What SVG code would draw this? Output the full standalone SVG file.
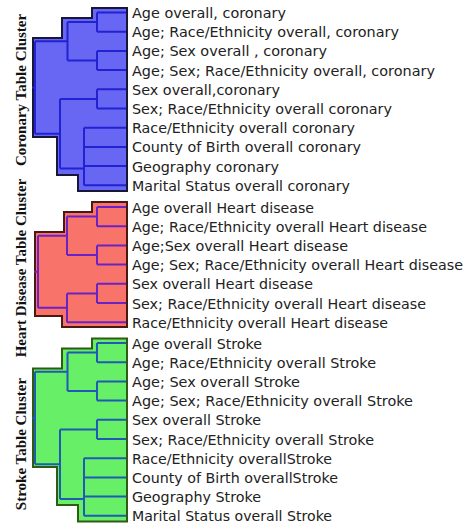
<svg xmlns="http://www.w3.org/2000/svg" width="466" height="529" viewBox="0 0 466 529">
  <style>
    .lbl { font-family: "DejaVu Sans", Verdana, sans-serif; font-size: 14px; fill: #222; }
    .title { font-family: "Liberation Serif", "Times New Roman", serif; font-weight: bold; font-size: 15px; fill: #111; text-anchor: middle; }
    .bg { stroke-width: 2; stroke-linejoin: miter; }
    .cor-bg { fill: #6767F3; stroke: #17173A; }
    .hd-bg { fill: #F8746B; stroke: #4A1A12; }
    .st-bg { fill: #67EF67; stroke: #2D5C12; }
    .edge { fill: none; stroke-width: 2; stroke-linecap: butt; }
    .cor-edge { stroke: #2222D2; }
    .hd-edge { stroke: #6A22C4; }
    .st-edge { stroke: #1F5BB4; }
  </style>
  <rect width="466" height="529" fill="#ffffff"/>

  <!-- cluster backgrounds (stepped hulls) -->
  <g id="coronary-cluster">
    <polygon class="bg cor-bg" points="127,8 92,8 92,18 62,18 62,38 33,38 33,137 57,137 57,175 78,175 78,191 127,191"/>
    <text class="title" transform="translate(25.5,90) rotate(-90)">Coronary Table Cluster</text>
  </g>
  <g id="heart-cluster">
    <polygon class="bg hd-bg" points="127,202 92,202 92,212 64,212 64,232 35,232 35,316 62,316 62,327 127,327"/>
    <text class="title" transform="translate(25.5,268) rotate(-90)">Heart Disease Table Cluster</text>
  </g>
  <g id="stroke-cluster">
    <polygon class="bg st-bg" points="127,338.5 92,338.5 92,348.5 62,348.5 62,368.5 33,368.5 33,467 57,467 57,505 78,505 78,521.5 127,521.5"/>
    <text class="title" transform="translate(25.5,444) rotate(-90)">Stroke Table Cluster</text>
  </g>

  <!-- dendrogram links -->
  <g id="connectors">
    <g class="edge cor-edge">
      <path d="M97,12.5H126M97,31.7H126M97,50.9H126M97,70.1H126M97,89.3H126M97,108.5H126M84,127.7H126M84,146.9H126M84,166.1H126M84,185.3H126"/>
      <path d="M97,12.5V31.7M97,22.1H67.5M97,50.9V70.1M97,60.5H67.5M67.5,22.1V60.5M67.5,41.3H35"/>
      <path d="M97,89.3V108.5M97,98.9H60M84,127.7V185.3M84,168.5H60M60,98.9V168.5M60,133.7H35"/>
      <path d="M35,41.3V133.7M35,87.5H32"/>
    </g>
    <g class="edge hd-edge">
      <path d="M97,207H126M97,226.2H126M97,245.4H126M97,264.6H126M97,283.8H126M97,303H126M67,322.2H126"/>
      <path d="M97,207V226.2M97,216.6H67M97,245.4V264.6M97,255H67M67,216.6V255M67,235.8H38"/>
      <path d="M97,283.8V303M97,293.4H67M67,293.4V322.2M67,307.8H38"/>
      <path d="M38,235.8V307.8M38,271.8H34"/>
    </g>
    <g class="edge st-edge">
      <path d="M97,343H126M97,362.2H126M97,381.4H126M97,400.6H126M97,419.8H126M97,439H126M84,458.2H126M84,477.4H126M84,496.6H126M84,515.8H126"/>
      <path d="M97,343V362.2M97,352.6H67.5M97,381.4V400.6M97,391H67.5M67.5,352.6V391M67.5,371.8H35"/>
      <path d="M97,419.8V439M97,429.4H60M84,458.2V515.8M84,499H60M60,429.4V499M60,464.2H35"/>
      <path d="M35,371.8V464.2M35,418H32"/>
    </g>
  </g>

  <!-- leaf labels -->
  <g id="coronary-leaves" class="lbl">
    <g id="cor-1"><text x="132" y="18" textLength="154" lengthAdjust="spacingAndGlyphs">Age overall, coronary</text></g>
    <g id="cor-2"><text x="132" y="37.2" textLength="267" lengthAdjust="spacingAndGlyphs">Age; Race/Ethnicity overall, coronary</text></g>
    <g id="cor-3"><text x="132" y="56.4" textLength="195" lengthAdjust="spacingAndGlyphs">Age; Sex overall , coronary</text></g>
    <g id="cor-4"><text x="132" y="75.6" textLength="303" lengthAdjust="spacingAndGlyphs">Age; Sex; Race/Ethnicity overall, coronary</text></g>
    <g id="cor-5"><text x="132" y="94.8" textLength="148" lengthAdjust="spacingAndGlyphs">Sex overall,coronary</text></g>
    <g id="cor-6"><text x="132" y="114" textLength="260" lengthAdjust="spacingAndGlyphs">Sex; Race/Ethnicity overall coronary</text></g>
    <g id="cor-7"><text x="132" y="133.2" textLength="223" lengthAdjust="spacingAndGlyphs">Race/Ethnicity overall coronary</text></g>
    <g id="cor-8"><text x="132" y="152.4" textLength="229" lengthAdjust="spacingAndGlyphs">County of Birth overall coronary</text></g>
    <g id="cor-9"><text x="132" y="171.6" textLength="147" lengthAdjust="spacingAndGlyphs">Geography coronary</text></g>
    <g id="cor-10"><text x="132" y="190.8" textLength="218" lengthAdjust="spacingAndGlyphs">Marital Status overall coronary</text></g>
  </g>
  <g id="heart-leaves" class="lbl">
    <g id="hd-1"><text x="132" y="212.5" textLength="182" lengthAdjust="spacingAndGlyphs">Age overall Heart disease</text></g>
    <g id="hd-2"><text x="132" y="231.7" textLength="295" lengthAdjust="spacingAndGlyphs">Age; Race/Ethnicity overall Heart disease</text></g>
    <g id="hd-3"><text x="132" y="250.9" textLength="216" lengthAdjust="spacingAndGlyphs">Age;Sex overall Heart disease</text></g>
    <g id="hd-4"><text x="132" y="270.1" textLength="331" lengthAdjust="spacingAndGlyphs">Age; Sex; Race/Ethnicity overall Heart disease</text></g>
    <g id="hd-5"><text x="132" y="289.3" textLength="181" lengthAdjust="spacingAndGlyphs">Sex overall Heart disease</text></g>
    <g id="hd-6"><text x="132" y="308.5" textLength="294" lengthAdjust="spacingAndGlyphs">Sex; Race/Ethnicity overall Heart disease</text></g>
    <g id="hd-7"><text x="132" y="327.7" textLength="256" lengthAdjust="spacingAndGlyphs">Race/Ethnicity overall Heart disease</text></g>
  </g>
  <g id="stroke-leaves" class="lbl">
    <g id="st-1"><text x="132" y="348.5" textLength="130" lengthAdjust="spacingAndGlyphs">Age overall Stroke</text></g>
    <g id="st-2"><text x="132" y="367.7" textLength="244" lengthAdjust="spacingAndGlyphs">Age; Race/Ethnicity overall Stroke</text></g>
    <g id="st-3"><text x="132" y="386.9" textLength="168" lengthAdjust="spacingAndGlyphs">Age; Sex overall Stroke</text></g>
    <g id="st-4"><text x="132" y="406.1" textLength="281" lengthAdjust="spacingAndGlyphs">Age; Sex; Race/Ethnicity overall Stroke</text></g>
    <g id="st-5"><text x="132" y="425.3" textLength="129" lengthAdjust="spacingAndGlyphs">Sex overall Stroke</text></g>
    <g id="st-6"><text x="132" y="444.5" textLength="242" lengthAdjust="spacingAndGlyphs">Sex; Race/Ethnicity overall Stroke</text></g>
    <g id="st-7"><text x="132" y="463.7" textLength="200" lengthAdjust="spacingAndGlyphs">Race/Ethnicity overallStroke</text></g>
    <g id="st-8"><text x="132" y="482.9" textLength="206" lengthAdjust="spacingAndGlyphs">County of Birth overallStroke</text></g>
    <g id="st-9"><text x="132" y="502.1" textLength="129" lengthAdjust="spacingAndGlyphs">Geography Stroke</text></g>
    <g id="st-10"><text x="132" y="521.3" textLength="200" lengthAdjust="spacingAndGlyphs">Marital Status overall Stroke</text></g>
  </g>
</svg>
